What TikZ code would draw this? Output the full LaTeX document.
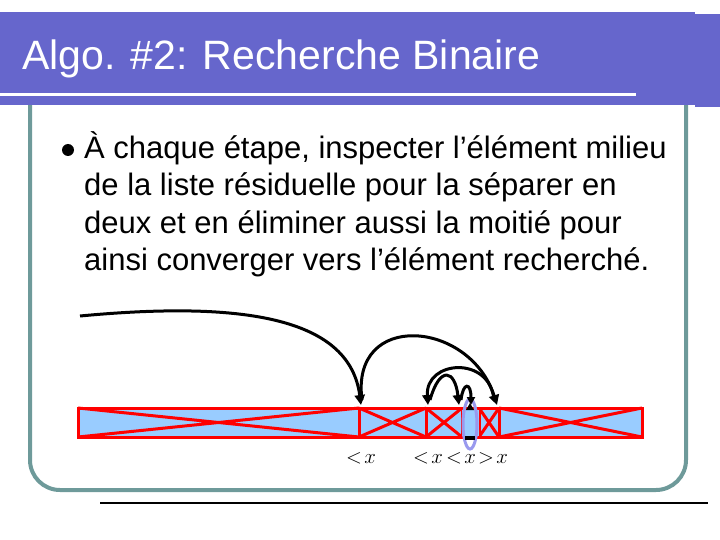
\documentclass[tikz,border=0pt]{standalone}
\usepackage{fontspec}
\setmainfont{Liberation Sans}
\usetikzlibrary{arrows.meta,shapes.geometric}
\definecolor{tbar}{HTML}{6666CC}
\definecolor{frame}{HTML}{6E9A9A}
\definecolor{cellfill}{HTML}{99CCFF}
\definecolor{ell}{HTML}{9999EE}
\begin{document}
\begin{tikzpicture}[x=1pt,y=-1pt,
  cell/.style={draw=red,line width=3pt,fill=cellfill},
  arr/.style={line width=3pt,-{Triangle[length=10pt,width=10pt]}},
  lab/.style={font=\fontsize{20}{20}\selectfont}]
\useasboundingbox (0,0) rectangle (720,540);
% frame
\draw[frame,line width=4pt,rounded corners=30pt] (30,100) -- (30,490) -- (686,490) -- (686,100);
% title bar
\fill[tbar] (0,12) rectangle (695,105);
\fill[tbar] (695,14) rectangle (720,107);
\draw[white,line width=3pt] (0,95) -- (636,95);
\node[anchor=base west,text=white,font=\fontsize{41}{43}\selectfont,inner sep=0pt] (title) at (22,70) {Algo. \#2: Recherche Binaire};
% bottom line
\draw[line width=2pt] (100,503) -- (708,503);
% text
\fill (68,150) circle (6);
\node[anchor=north west,font=\fontsize{31}{37.5}\selectfont,align=left,inner sep=0pt] (txt) at (84,131)
{À chaque étape, inspecter l’élément milieu\\de la liste résiduelle pour la séparer en\\deux et en éliminer aussi la moitié pour\\ainsi converger vers l’élément recherché.};
% cells
\foreach \a/\b in {78/359,359/426,426/462,479/499,499/642}{
  \draw[cell] (\a,408) rectangle (\b,437);
  \draw[red,line width=3pt] (\a,408) -- (\b,437) (\a,437) -- (\b,408);
}
\fill[cellfill] (462,408) rectangle (479,437);
\draw[red,line width=3pt] (462,408) -- (479,408) (462,437) -- (479,437);
\node[draw=ell,line width=3pt,ellipse,minimum width=14pt,minimum height=50pt,inner sep=0pt] (e) at (470,424) {};
\fill (466,410) -- (474,410) -- (470,403) -- cycle;
\fill (465,436) rectangle (475,440);
% coordinates
\coordinate (s) at (80,316);
\coordinate (c1) at (361,405);
\coordinate (c2) at (428,405);
\coordinate (c3) at (459,405);
\coordinate (c4) at (497,405);
\coordinate (c5) at (471,405);
\draw[arr] (s) .. controls (250,300) and (350,320) .. (c1);
\draw[arr] (362,400) .. controls (350,310) and (470,320) .. (c4);
\draw[arr] (494,400) .. controls (490,355) and (425,360) .. (c2);
\draw[arr] (430,400) .. controls (440,365) and (455,370) .. (c3);
\draw[line width=3pt,-{Triangle[length=8pt,width=8pt]}] (461,400) .. controls (463,382) and (471,382) .. (c5);
% labels
\node[lab] (l1) at (361,458) {$<\!x$};
\node[lab] (l2) at (428,458) {$<\!x$};
\node[lab] (l3) at (461,458) {$<\!x$};
\node[lab] (l4) at (493,458) {$>\!x$};
\end{tikzpicture}
\end{document}
